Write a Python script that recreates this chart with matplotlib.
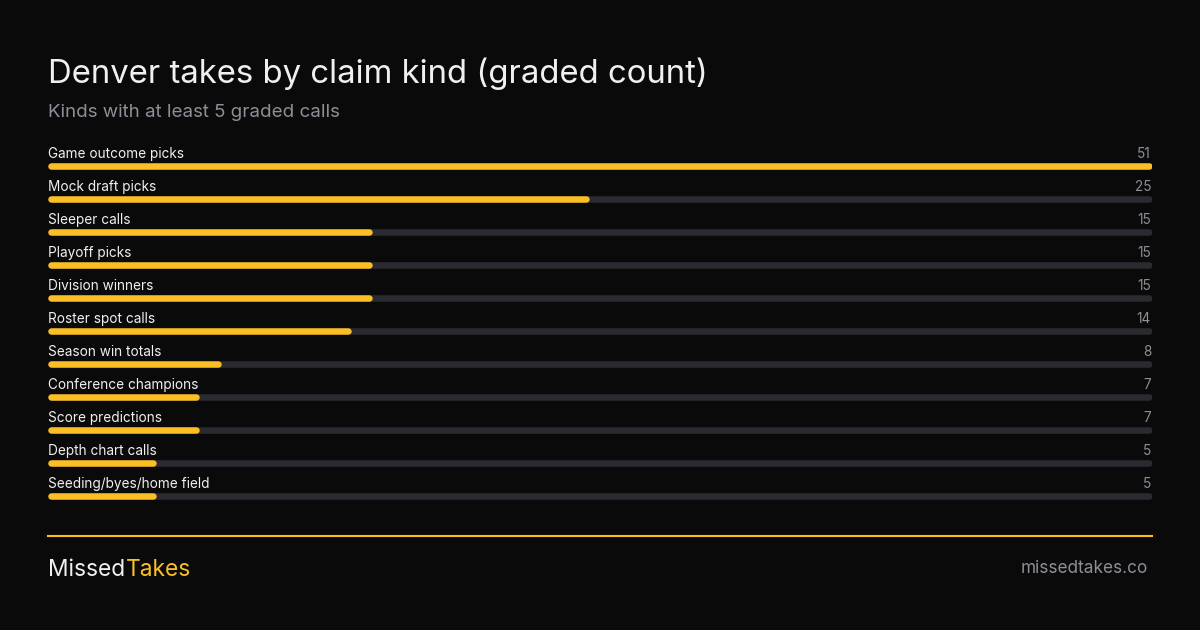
import matplotlib
matplotlib.use("Agg")
import matplotlib.pyplot as plt

#%% data

kinds = ["Game outcome picks", "Mock draft picks", "Sleeper calls", "Playoff picks",
         "Division winners", "Roster spot calls", "Season win totals",
         "Conference champions", "Score predictions", "Depth chart calls",
         "Seeding/byes/home field"]
counts = [51, 25, 15, 15, 15, 14, 8, 7, 7, 5, 5]

title = "Denver takes by claim kind (graded count)"
subtitle = "Kinds with at least 5 graded calls"

#%% style

BG = "#0a0a0a"
AMBER = "#fbbf24"
TRACK = "#2a2a31"
WHITE = "#f0f0f0"
GRAY = "#8e8e98"

plt.rcParams['font.family'] = ['Inter', 'DejaVu Sans']

W, H = 1200, 630
fig = plt.figure(figsize=(W / 100, H / 100), dpi=100, facecolor=BG)

# background axes in pixel coordinates for text
bg = fig.add_axes([0, 0, 1, 1])
bg.set_xlim(0, W)
bg.set_ylim(H, 0)
bg.axis('off')

bg.text(48, 83, title, color=WHITE, fontsize=23.7, va='baseline', ha='left')
bg.text(48, 117, subtitle, color=GRAY, fontsize=13.5, va='baseline', ha='left')

#%% bars

left, right = 48, 1152
row0, step = 166, 33
n = len(kinds)
top_px = row0 - step / 2
bot_px = row0 + step * (n - 1) + step / 2

ax = fig.add_axes([left / W, 1 - bot_px / H, (right - left) / W, (bot_px - top_px) / H])
ax.set_facecolor('none')
ax.axis('off')

vmax = max(counts)
ax.set_xlim(0, vmax)
ax.set_ylim(n - 0.5, -0.5)

lw_px = 6.5
r = (lw_px / 2) / (right - left) * vmax   # half cap in data units
lw_pt = lw_px * 72 / 100
for i, (k, v) in enumerate(zip(kinds, counts)):
    ax.plot([r, vmax - r], [i, i], color=TRACK, lw=lw_pt, solid_capstyle='round')
    ax.plot([r, v - r], [i, i], color=AMBER, lw=lw_pt, solid_capstyle='round')
    y_lab = row0 + step * i - 8
    bg.text(left, y_lab, k, color=WHITE, fontsize=9.8, ha='left', va='baseline')
    bg.text(right - 1, y_lab, str(v), color=GRAY, fontsize=9.8, ha='right', va='baseline')

#%% footer

bg.plot([48, 1152], [535.5, 535.5], color=AMBER, lw=1.5)
t = bg.text(48, 576, "Missed", color=WHITE, fontsize=16.4, ha='left', va='baseline')
fig.canvas.draw()
bb = t.get_window_extent()
bg.text(bb.x1 + 0.5, 576, "Takes", color=AMBER, fontsize=16.4, ha='left', va='baseline')
bg.text(1148, 573, "missedtakes.co", color=GRAY, fontsize=12.4, ha='right', va='baseline')

fig.savefig("out.png", dpi=100, facecolor=BG)
